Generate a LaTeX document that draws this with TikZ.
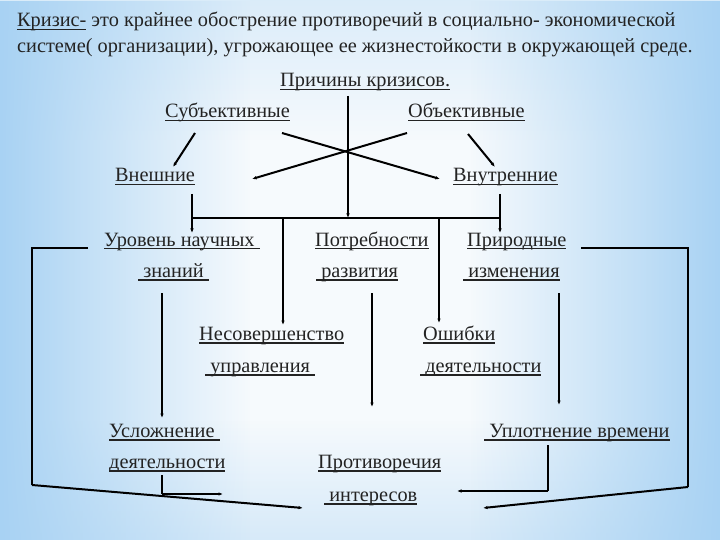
\documentclass[tikz,border=0pt]{standalone}
\usepackage{fontspec}
\setmainfont{Liberation Serif}
\newfontfamily\tnr{Liberation Serif}
\usetikzlibrary{arrows.meta,fadings}
\definecolor{bgblue}{RGB}{168,210,243}
\definecolor{bgmid}{RGB}{246,250,253}
\definecolor{txt}{RGB}{35,35,35}
\newsavebox{\ulbox}
\newcommand{\ulx}[1]{\sbox{\ulbox}{#1}\rlap{\color{txt}\rule[-3.5pt]{\wd\ulbox}{1.3pt}}\usebox{\ulbox}}
\begin{document}
\begin{tikzpicture}[x=1pt,y=-1pt,
  lbl/.style={anchor=base west, inner sep=0pt, font=\tnr\fontsize{20.3}{24}\selectfont, text=txt},
  ln/.style={line width=1.2pt, draw=black},
  tk/.style={line width=2pt, draw=black},
  arr/.style={-{Latex[length=4.5pt,width=3.5pt]}}]
% background
\useasboundingbox (0,0) rectangle (720,540);
\fill[bgmid] (0,0) rectangle (720,540);
\fill[bgblue, path fading=south, fill opacity=0.35] (0,0) rectangle (720,140);
\fill[bgblue, path fading=north, fill opacity=0.4] (0,420) rectangle (720,540);
\fill[bgblue, path fading=east] (0,0) rectangle (250,540);
\fill[bgblue, path fading=west] (470,0) rectangle (720,540);

% texts
\node[lbl] (t1) at (17,27) {\ulx{Кризис-} это крайнее обострение противоречий в социально- экономической};
\node[lbl] (t2) at (17,53) {системе( организации), угрожающее ее жизнестойкости в окружающей среде.};
\node[lbl] (prich) at (280,87) {\ulx{Причины кризисов.}};
\node[lbl] (subj) at (165,118) {\ulx{Субъективные}};
\node[lbl] (obj) at (408,118) {\ulx{Объективные}};
\node[lbl] (vnesh) at (115,182) {\ulx{Внешние}};
\node[lbl] (vnutr) at (453,182) {\ulx{Внутренние}};
\node[lbl] (urov) at (104,246) {\ulx{Уровень научных\ }};
\node[lbl] (znan) at (138,277) {\ulx{\ знаний\ }};
\node[lbl] (potr) at (315,246) {\ulx{Потребности}};
\node[lbl] (razv) at (316,277) {\ulx{\ развития}};
\node[lbl] (prir) at (467,246) {\ulx{Природные}};
\node[lbl] (izm) at (463,277) {\ulx{\ изменения}};
\node[lbl] (nesov) at (199,340) {\ulx{Несовершенство}};
\node[lbl] (upr) at (205,372) {\ulx{\ управления\ }};
\node[lbl] (osh) at (423,340) {\ulx{Ошибки}};
\node[lbl] (deyat1) at (420,372) {\ulx{\ деятельности}};
\node[lbl] (uslozh) at (109,437) {\ulx{Усложнение\ }};
\node[lbl] (deyat2) at (109,468) {\ulx{деятельности}};
\node[lbl] (uplot) at (484,437) {\ulx{\ Уплотнение времени}};
\node[lbl] (protiv) at (318,468) {\ulx{Противоречия}};
\node[lbl] (inter) at (324,501) {\ulx{\ интересов}};

% junction coordinates
\coordinate (top) at (348,96);
\coordinate (hc) at (348,218);
\coordinate (hl) at (192,218);
\coordinate (hr) at (500,218);
\coordinate (s1) at (195,133);
\coordinate (s2) at (173,167);
\coordinate (x1) at (282,133);
\coordinate (x2) at (440,179);
\coordinate (x3) at (407,133);
\coordinate (x4) at (252,179);
\coordinate (o1) at (468,134);
\coordinate (o2) at (495,167);
\coordinate (l1) at (192,194);
\coordinate (l2) at (192,233);
\coordinate (r1) at (500,194);
\coordinate (r2) at (500,233);
\coordinate (m1) at (283,325);
\coordinate (m2) at (439,323);
\coordinate (m1t) at (283,218);
\coordinate (m2t) at (439,218);
\coordinate (z1) at (162,293);
\coordinate (z2) at (162,418);
\coordinate (rv1) at (372,293);
\coordinate (rv2) at (372,407);
\coordinate (iz1) at (559,293);
\coordinate (iz2) at (559,405);
\coordinate (lf1) at (88,248);
\coordinate (lf2) at (32,248);
\coordinate (lf3) at (32,485);
\coordinate (lf4) at (303,508);
\coordinate (rf1) at (581,248);
\coordinate (rf2) at (688,248);
\coordinate (rf3) at (688,487);
\coordinate (rf4) at (483,508);
\coordinate (d1) at (162,475);
\coordinate (d2) at (162,494);
\coordinate (d3) at (223,494);
\coordinate (u1) at (548,445);
\coordinate (u2) at (548,491);
\coordinate (u3) at (457,491);

% connectors
\draw[ln,arr] (top) -- (hc);
\draw[tk,arr] (s1) -- (s2);
\draw[tk,arr] (x1) -- (x2);
\draw[tk,arr] (x3) -- (x4);
\draw[tk,arr] (o1) -- (o2);
\draw[ln] (hl) -- (hr);
\draw[ln,arr] (l1) -- (l2);
\draw[ln,arr] (r1) -- (r2);
\draw[ln,arr] (m1t) -- (m1);
\draw[ln,arr] (m2t) -- (m2);
\draw[ln,arr] (z1) -- (z2);
\draw[ln,arr] (rv1) -- (rv2);
\draw[ln,arr] (iz1) -- (iz2);
\draw[ln] (lf1) -- (lf2) -- (lf3);
\draw[tk,arr] (lf3) -- (lf4);
\draw[ln] (rf1) -- (rf2) -- (rf3);
\draw[tk,arr] (rf3) -- (rf4);
\draw[ln] (d1) -- (d2);
\draw[tk,arr] (d2) -- (d3);
\draw[ln] (u1) -- (u2);
\draw[tk,arr] (u2) -- (u3);
\end{tikzpicture}
\end{document}
